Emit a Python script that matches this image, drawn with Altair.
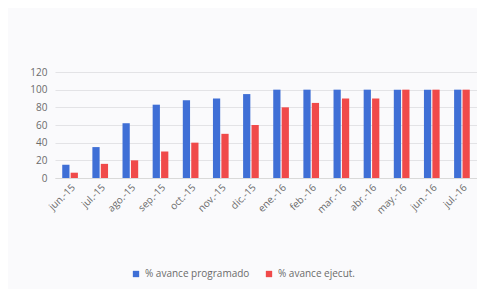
import altair as alt
import pandas as pd

months = ["jun.-15", "jul.-15", "ago.-15", "sep.-15", "oct.-15", "nov.-15", "dic.-15",
          "ene.-16", "feb.-16", "mar.-16", "abr.-16", "may.-16", "jun.-16", "jul.-16"]
programado = [15, 35, 62, 83, 88, 90, 95, 100, 100, 100, 100, 100, 100, 100]
ejecutado = [6, 16, 20, 30, 40, 50, 60, 80, 85, 90, 90, 100, 100, 100]
series = ["% avance programado", "% avance ejecut."]

rows = []
for m, p, e in zip(months, programado, ejecutado):
    rows.append({"mes": m, "serie": series[0], "valor": p})
    rows.append({"mes": m, "serie": series[1], "valor": e})
df = pd.DataFrame(rows)

chart = alt.Chart(df).mark_bar().encode(
    x=alt.X("mes:N", sort=months,
            scale=alt.Scale(paddingInner=0.48, paddingOuter=0.24),
            axis=alt.Axis(title=None, labelAngle=-45, labelFontSize=10, labelColor="#6b6b6b",
                          labelFont="Open Sans", ticks=False, domainColor="#d9d9d9",
                          labelPadding=4)),
    xOffset=alt.XOffset("serie:N", sort=series, scale=alt.Scale(paddingInner=0.14)),
    y=alt.Y("valor:Q", scale=alt.Scale(domain=[0, 120]),
            axis=alt.Axis(title=None, values=[0, 20, 40, 60, 80, 100, 120], labelFontSize=10,
                          labelColor="#6b6b6b", labelFont="Open Sans", ticks=False,
                          domain=False, gridColor="#e3e3e6", labelPadding=8)),
    color=alt.Color("serie:N", sort=series,
                    scale=alt.Scale(domain=series, range=["#3f6fd6", "#f04a4a"]),
                    legend=alt.Legend(title=None, orient="none", legendX=76, legendY=197,
                                      direction="horizontal", symbolType="square",
                                      symbolSize=40, labelFontSize=10, labelColor="#6b6b6b",
                                      labelFont="Open Sans", columnPadding=14)),
).properties(
    width=422, height=106,
    autosize=alt.AutoSizeParams(type="none"),
    padding={"left": 47, "top": 64, "right": 0, "bottom": 111},
    background="#fafafc",
).configure_view(stroke=None)

chart.save("out.html", embed_options={"renderer": "svg", "actions": False})
